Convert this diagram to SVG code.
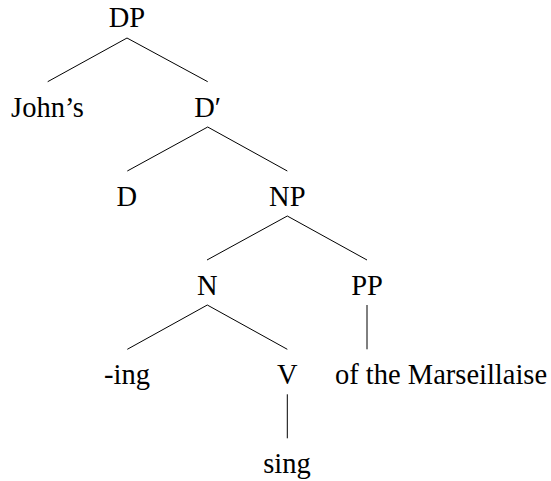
<svg xmlns="http://www.w3.org/2000/svg" width="551" height="481" viewBox="0 0 551 481">
<style>
text { font-family: "Liberation Serif", "Times New Roman", serif; font-size: 28.5px; fill: #000; }
.c { text-anchor: middle; }
line { stroke: #000; stroke-width: 1; }
</style>
<rect width="551" height="481" fill="#fff"/>
<g id="connectors">
<line x1="127" y1="38" x2="47.7" y2="81.7"/>
<line x1="127" y1="38" x2="207.7" y2="81.7"/>
<line x1="207.7" y1="127" x2="127.3" y2="171"/>
<line x1="207.7" y1="127" x2="287.3" y2="171"/>
<line x1="287.3" y1="216" x2="207" y2="260"/>
<line x1="287.3" y1="216" x2="367" y2="260"/>
<line x1="207.3" y1="305" x2="127.3" y2="349.3"/>
<line x1="207.3" y1="305" x2="287.3" y2="349.3"/>
<line x1="367" y1="305" x2="367" y2="349.3"/>
<line x1="287.3" y1="394.3" x2="287.3" y2="438.3"/>
</g>
<g id="DP"><text class="c" x="127" y="27">DP</text></g>
<g id="Johns"><text class="c" x="47.5" y="117">John’s</text></g>
<g id="Dbar"><text class="c" x="207.7" y="117">D′</text></g>
<g id="D"><text class="c" x="126.8" y="205.5">D</text></g>
<g id="NP"><text class="c" x="287.3" y="205.5">NP</text></g>
<g id="N"><text class="c" x="207.3" y="294.5">N</text></g>
<g id="PP"><text class="c" x="367" y="294.5">PP</text></g>
<g id="ing"><text class="c" x="127" y="383.5">-ing</text></g>
<g id="V"><text class="c" x="287.3" y="383.5">V</text></g>
<g id="of"><text x="335" y="383.5">of the Marseillaise</text></g>
<g id="sing"><text class="c" x="287" y="473">sing</text></g>
</svg>
